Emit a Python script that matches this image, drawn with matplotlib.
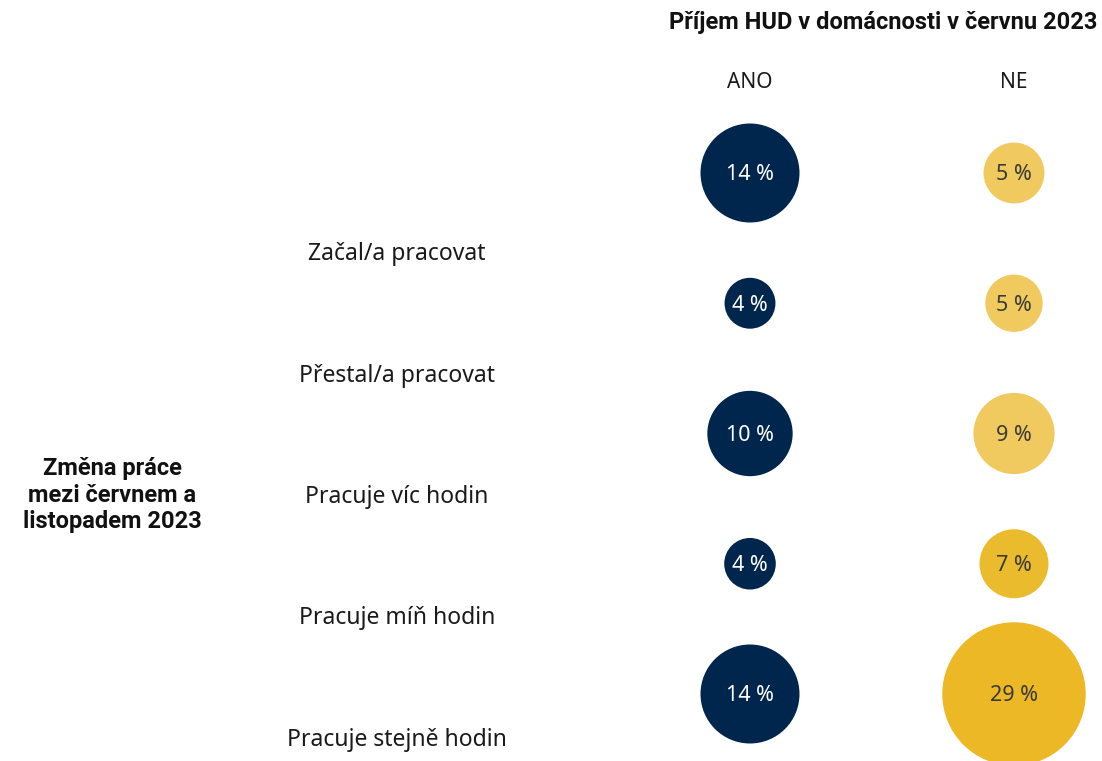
import numpy as np
import matplotlib.pyplot as plt

plt.rcParams['font.family'] = ['Noto Sans', 'DejaVu Sans']

# data
rows = ["Začal/a pracovat", "Přestal/a pracovat", "Pracuje víc hodin",
        "Pracuje míň hodin", "Pracuje stejně hodin"]
groups = ["ANO", "NE"]
ano_vals = [14.0, 3.7, 10.4, 3.8, 14.0]
ne_vals = [5.3, 4.7, 9.4, 6.8, 29.4]
ne_colors = ["#f0ca5e", "#f0ca5e", "#f0ca5e", "#ebbb2e", "#ecb826"]
ano_color = "#00264d"

title = "Příjem HUD v domácnosti v červnu 2023"
side_label = "Změna práce\nmezi červnem a\nlistopadem 2023"

W, H, dpi = 1102, 761, 100
fig = plt.figure(figsize=(W / dpi, H / dpi), dpi=dpi)
ax = fig.add_axes([0, 0, 1, 1])

# pixel layout -> data units
x0, dx = 750, 264
y0, dy = 173, 130.25
ax.set_xlim((0 - x0) / dx, (W - x0) / dx)
ax.set_ylim((H - y0) / dy, (0 - y0) / dy)
ax.axis("off")

r14 = 49.5  # radius in px of 14 %


def size_of(v):
    r = r14 * np.sqrt(v / 14.0)
    return (2 * r * 72 / dpi) ** 2


ys = np.arange(len(rows))
ax.scatter(np.zeros(len(rows)), ys, s=[size_of(v) for v in ano_vals],
           color=ano_color, linewidths=0, zorder=2)
ax.scatter(np.ones(len(rows)), ys, s=[size_of(v) for v in ne_vals],
           color=ne_colors, linewidths=0, zorder=2)

for j in range(len(rows)):
    ax.text(0, ys[j] + 0.015, f"{round(ano_vals[j])} %", ha="center", va="center",
            fontsize=15.5, color="white", zorder=3)
    ax.text(1, ys[j] + 0.015, f"{round(ne_vals[j])} %", ha="center", va="center",
            fontsize=15.5, color="#3a3a3a", zorder=3)

# row labels sit below each bubble row
for j, lab in enumerate(rows):
    ly = (254 + 121.5 * j - y0) / dy
    ax.text((397 - x0) / dx, ly, lab, ha="center", va="center",
            fontsize=16.5, color="#1a1a1a")

for i, g in enumerate(groups):
    ax.text(i, (83 - y0) / dy, g, ha="center", va="center",
            fontsize=15, color="#1a1a1a")

bold = ['Roboto', 'DejaVu Sans']
ax.text((1097 - x0) / dx, (23 - y0) / dy, title, ha="right", va="center",
        fontsize=17, fontweight="bold", family=bold, color="#111111")
ax.text((112 - x0) / dx, (495 - y0) / dy, side_label, ha="center", va="center",
        fontsize=17, fontweight="bold", family=bold, color="#111111",
        linespacing=1.2)

fig.savefig("out.png", dpi=dpi)
